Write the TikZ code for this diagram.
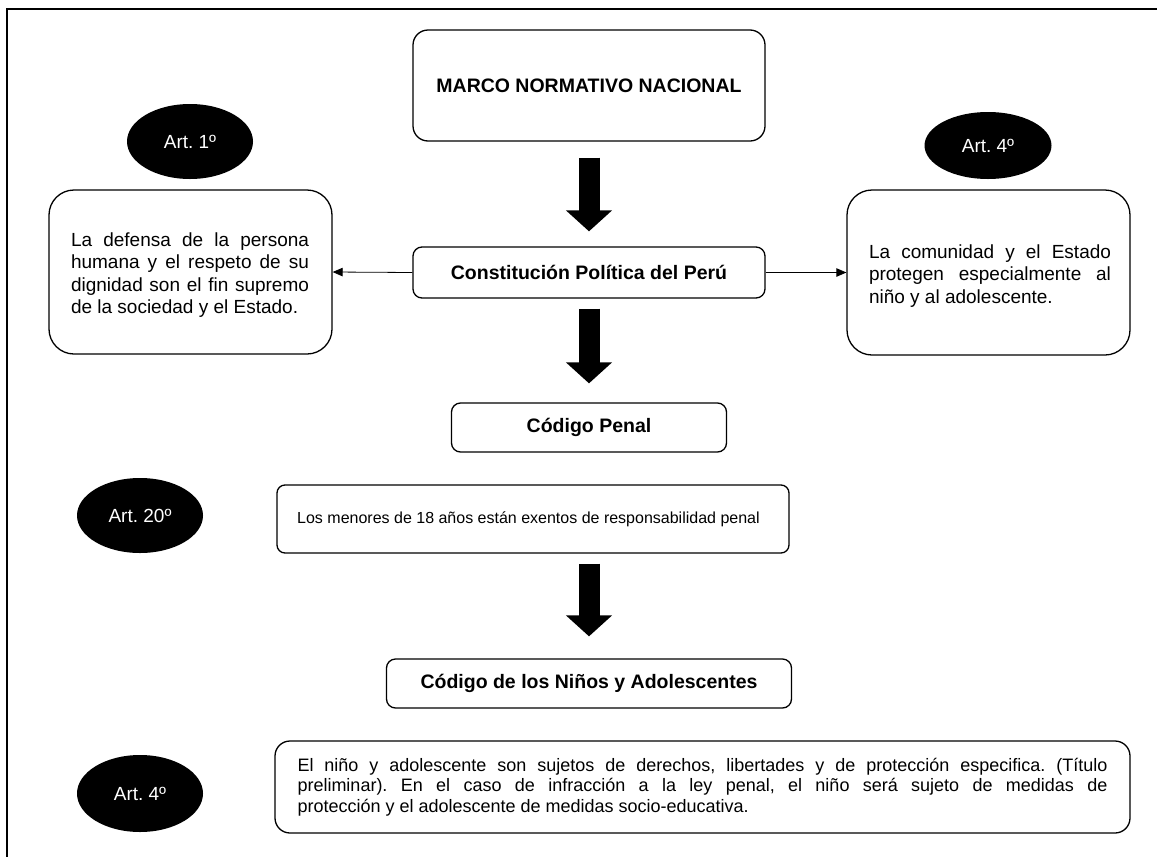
\documentclass[tikz,border=0pt]{standalone}
\usepackage{fontspec}
\setmainfont{Liberation Sans}
\usetikzlibrary{shapes.geometric,arrows.meta}
\frenchspacing
\begin{document}
\begin{tikzpicture}[x=1pt,y=-1pt,
  box/.style={draw, line width=1.3pt, rounded corners=#1, inner sep=0pt},
  box/.default=10pt,
  title/.style={font=\fontsize{19.5}{23}\selectfont\bfseries},
  body/.style={font=\fontsize{19}{22.6}\selectfont, align=justify, inner sep=0pt},
  badge/.style={ellipse, fill=black, text=white, inner sep=0pt,
                font=\fontsize{19}{20}\selectfont},
  link/.style={line width=0.8pt, -{Triangle[length=10pt,width=8.5pt]}},
  bigarrow/.style={line width=21pt, -{Triangle[length=21pt,width=45pt]}},
]
\useasboundingbox (0,0) rectangle (1157,857);

% page frame (left and top edges)
\draw[line width=2pt] (7,857) -- (7,9) -- (1157,9);

% main column
\node[box=15pt, title, minimum width=352pt, minimum height=111pt] (marco) at (589,85.5)
  {MARCO NORMATIVO NACIONAL};
\node[box=9pt, title, minimum width=352pt, minimum height=51pt] (const) at (589,272.5)
  {Constitución Política del Perú};
\node[box=9pt, title, minimum width=275pt, minimum height=49pt] (penal) at (589,427.5)
  {Código Penal};
\node[box=8pt, minimum width=512pt, minimum height=68pt] (menores) at (533,519) {};
\node[anchor=west, inner sep=0pt, font=\fontsize{16}{20}\selectfont] (menorestext) at (297,519)
  {Los menores de 18 años están exentos de responsabilidad penal};
\node[box=9pt, title, minimum width=405pt, minimum height=49pt] (ninos) at (589,683.5)
  {Código de los Niños y Adolescentes};
\node[box=15pt, minimum width=855pt, minimum height=92pt, text width=810pt,
      font=\fontsize{18}{20.5}\selectfont, align=justify] (final) at (702.5,787)
  {El niño y adolescente son sujetos de derechos, libertades y de protección especifica. (Título\linebreak
   preliminar). En el caso de infracción a la ley penal, el niño será sujeto de medidas de\linebreak
   protección y el adolescente de medidas socio-educativa.};

% side boxes and their texts
\node[box=25pt, minimum width=283pt, minimum height=164pt] (left) at (190.5,272) {};
\node[body, text width=238pt] (lefttext) at (190,275)
  {La defensa de la persona\linebreak humana y el respeto de su\linebreak
   dignidad son el fin supremo\linebreak de la sociedad y el Estado.};
\node[box=25pt, minimum width=283pt, minimum height=165pt] (right) at (988.5,272.5) {};
\node[body, text width=242pt] (righttext) at (990,276)
  {La comunidad y el Estado\linebreak protegen especialmente al\linebreak
   niño y al adolescente.};

% article badges
\node[badge, minimum width=126pt, minimum height=75pt] (art1) at (190,141.5) {Art. 1º};
\node[badge, minimum width=127pt, minimum height=67pt] (art4a) at (988,145.5) {Art. 4º};
\node[badge, minimum width=126pt, minimum height=75pt] (art20) at (140,515.5) {Art. 20º};
\node[badge, minimum width=126pt, minimum height=77pt] (art4b) at (140,793.5) {Art. 4º};

% connectors
\draw[link] (const.west) -- (left.east);
\draw[link] (const.east) -- (right.west);
\draw[bigarrow, shorten <=16pt, shorten >=15pt] (marco.south) -- (const.north);
\draw[bigarrow, shorten <=10pt, shorten >=19pt] (const.south) -- (penal.north);
\draw[bigarrow, shorten <=10pt, shorten >=22pt] (menores.south -| ninos.north) -- (ninos.north);
\end{tikzpicture}
\end{document}
